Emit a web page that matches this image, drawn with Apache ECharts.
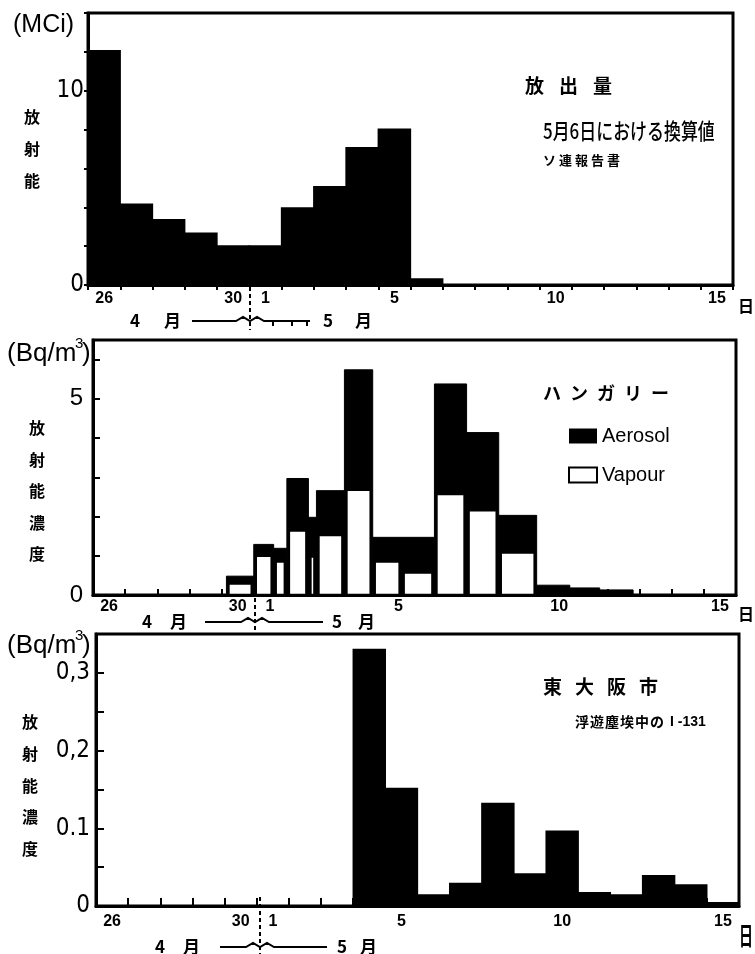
<!DOCTYPE html>
<html>
<head>
<meta charset="utf-8">
<script src="https://cdn.jsdelivr.net/npm/echarts@6/dist/echarts.min.js"></script>
<style>
  html, body { margin: 0; background: #fff; }
  #chart { width: 755px; height: 954px; }
</style>
</head>
<body>
<div id="chart"></div>
<script>
// 4月26日 .. 5月15日
const days = ['26', '27', '28', '29', '30', '1', '2', '3', '4', '5', '6', '7', '8', '9', '10', '11', '12', '13', '14', '15']
const shownDays = ['26', '30', '1', '5', '10', '15']

// 放出量 (MCi) 5月6日における換算値, ソ連報告書
const releaseMCi = [12.1, 4.2, 3.4, 2.7, 2.05, 2.05, 4.0, 5.1, 7.1, 8.05, 0.35]

// ハンガリー (Bq/m3): sampling periods in days counted from 4月26日 0時
const hungaryFrom = [4.15, 5.0, 5.62, 6.03, 6.7, 6.95, 7.82, 8.7, 9.6, 10.62, 11.62, 12.62, 13.8, 14.83, 15.76]
const hungaryTo = [5.0, 5.62, 6.03, 6.7, 6.95, 7.82, 8.7, 9.6, 10.62, 11.62, 12.62, 13.8, 14.83, 15.76, 16.8]
const hungaryVapour = [0.33, 1.04, 0.89, 1.68, 1.02, 1.57, 2.72, 0.89, 0.61, 2.61, 2.2, 1.12, 0, 0, 0]
const hungaryAerosol = [0.15, 0.25, 0.3, 1.29, 0.96, 1.09, 3.02, 0.58, 0.86, 2.77, 1.94, 0.91, 0.25, 0.18, 0.13]

// 東大阪市 浮遊塵埃中の I-131 (Bq/m3)
const osakaI131 = ['-', '-', '-', '-', '-', '-', '-', '-', 0.331, 0.152, 0.015, 0.03, 0.133, 0.042, 0.097, 0.018, 0.015, 0.04, 0.028, 0.005]

const JP = '"Noto Sans CJK JP", sans-serif'
const LAT = '"Liberation Sans", Arial, sans-serif'
const NARROW = '"Liberation Sans Narrow", "DejaVu Sans Condensed", sans-serif'

const chart = echarts.init(document.getElementById('chart'))

// category axis: line + day labels centred on each day
const dayAxis = (gridIndex, margin) => ({
  type: 'category',
  gridIndex,
  position: 'bottom',
  data: days,
  boundaryGap: true,
  axisLine: { lineStyle: { color: '#000', width: 3 } },
  axisTick: { show: false },
  axisLabel: {
    interval: (i, v) => shownDays.includes(v),
    margin,
    color: '#000',
    fontSize: 16,
    fontWeight: 'bold',
    fontFamily: LAT
  },
  splitLine: { show: false }
})
// value axis in day units: day boundary ticks (and the Hungarian sampling periods)
const dayTicks = (gridIndex, inside, len) => ({
  type: 'value',
  gridIndex,
  position: 'bottom',
  min: 0,
  max: 20,
  interval: 1,
  axisLine: { show: false },
  axisTick: { show: true, inside, length: len, lineStyle: { color: '#000', width: 2 } },
  axisLabel: { show: false },
  splitLine: { show: false }
})

const valueAxis = (gridIndex, max, interval, inside, len, margin, fmt, ff) => ({
  type: 'value',
  gridIndex,
  min: 0,
  max,
  interval,
  axisLine: { show: true, lineStyle: { color: '#000', width: 3 } },
  axisTick: { show: true, inside, length: len, lineStyle: { color: '#000', width: 2 } },
  axisLabel: { formatter: fmt, margin, color: '#000', fontSize: 24, fontFamily: ff },
  splitLine: { show: false }
})

// text helpers for the annotations
const T = (x, y, text, size, o = {}) => ({
  type: 'text',
  x,
  y,
  z: 100,
  scaleX: o.sx || 1,
  scaleY: o.sy || 1,
  style: {
    text,
    fontSize: size,
    fontFamily: o.ff || JP,
    fontWeight: o.fw || 'bold',
    fill: '#000',
    textAlign: o.align || 'left',
    textVerticalAlign: 'middle'
  }
})
const spaced = (str, x, y, step, size, o) => str.split('').map((c, i) => T(x + i * step, y, c, size, o))
const column = (str, x, y, step, size) => str.split('').map((c, i) => T(x, y + i * step, c, size))
const line = (x1, y1, x2, y2, dash) => ({
  type: 'line',
  z: 100,
  shape: { x1, y1, x2, y2 },
  style: { stroke: '#000', lineWidth: 2, lineDash: dash || null }
})
const monthRow = (y, x4, off4, x5, off5, from, to, xd, dTop, dBottom) => [
  T(x4, y, '4', 17),
  T(x4 + off4, y, '月', 17),
  T(x5, y, '5', 17),
  T(x5 + off5, y, '月', 17),
  {
    type: 'polyline',
    z: 100,
    shape: { points: [[from, y], [xd - 14, y], [xd - 7, y - 4], [xd, y], [xd + 7, y - 4], [xd + 14, y], [to, y]] },
    style: { stroke: '#000', lineWidth: 2, fill: null }
  },
  line(xd, dTop, xd, dBottom, [4, 3])
]
const bqUnit = (x, y) => [
  T(x, y, '(Bq/m', 26, { ff: LAT, fw: 'normal' }),
  T(x + 68, y - 10, '3', 15, { ff: LAT, fw: 'normal' }),
  T(x + 75, y, ')', 26, { ff: LAT, fw: 'normal' })
]

const graphic = [
  // panel 1
  T(13, 25, '(MCi)', 25, { ff: LAT, fw: 'normal' }),
  ...column('放射能', 24, 117, 32, 16),
  ...spaced('放出量', 525, 86, 34, 19),
  T(543, 131, '5月6日における換算値', 22, { sx: 0.77, fw: '500' }),
  ...spaced('ソ連報告書', 543, 160, 16, 13),
  T(746, 306, '日', 16, { align: 'center' }),
  ...monthRow(321, 130, 34, 323, 32, 192, 310, 250, 287, 330),
  line(273, 322, 273, 326), line(292, 322, 292, 326), line(307, 322, 307, 326),
  // panel 2
  ...bqUnit(7, 354),
  ...column('放射能濃度', 29, 428, 31.5, 16),
  ...spaced('ハンガリー', 543, 393, 27, 18),
  T(746, 614, '日', 16, { align: 'center' }),
  ...monthRow(622, 142, 28, 332, 26, 205, 323, 255, 598, 630),
  // panel 3
  ...bqUnit(7, 646),
  ...column('放射能濃度', 22, 722, 31.8, 16),
  ...spaced('東大阪市', 543, 687, 32, 19),
  ...spaced('浮遊塵埃中の', 575, 722, 15, 14),
  T(670, 722, 'I -131', 14, { ff: LAT }),
  T(746, 935, '日', 14, { align: 'center', sy: 1.8 }),
  ...monthRow(947, 155, 28, 337, 23, 220, 327, 260, 897, 954)
]

const option = {
  animation: false,
  backgroundColor: '#fff',
  grid: [
    { left: 88, top: 13, width: 645, height: 272, show: true, borderColor: '#000', borderWidth: 3 },
    { left: 93, top: 340, width: 643, height: 255, show: true, borderColor: '#000', borderWidth: 3 },
    { left: 96, top: 634, width: 643, height: 272, show: true, borderColor: '#000', borderWidth: 3 }
  ],
  xAxis: [
    dayAxis(0, 6),
    dayTicks(0, false, 5),
    dayAxis(1, 4),
    dayTicks(1, true, 6),
    dayAxis(2, 8),
    dayTicks(2, true, 8)
  ],
  yAxis: [
    valueAxis(0, 14, 2, false, 4, 4, v => (v === 0 || v === 10 ? String(v) : ''), NARROW),
    valueAxis(1, 6.5, 1, true, 7, 10, v => (v === 0 || v === 5 ? String(v) : ''), LAT),
    valueAxis(2, 0.35, 0.05, true, 8, 6, v => {
      const k = Math.round(v * 100)
      return k === 0 ? '0' : k === 10 ? '0.1' : k === 20 ? '0,2' : k === 30 ? '0,3' : ''
    }, NARROW)
  ],
  legend: {
    data: [
      { name: 'Aerosol', icon: 'rect', itemStyle: { color: '#000' } },
      { name: 'Vapour', icon: 'rect', itemStyle: { color: '#fff', borderColor: '#000', borderWidth: 2 } }
    ],
    orient: 'vertical',
    left: 568,
    top: 426,
    padding: 0,
    itemWidth: 28,
    itemHeight: 15,
    itemGap: 19,
    selectedMode: false,
    textStyle: { fontSize: 20, color: '#000', fontFamily: LAT }
  },
  series: [
    {
      type: 'bar',
      xAxisIndex: 0,
      yAxisIndex: 0,
      data: releaseMCi,
      barWidth: '104%',
      itemStyle: { color: '#000' }
    },
    {
      type: 'custom',
      name: 'Aerosol',
      xAxisIndex: 3,
      yAxisIndex: 1,
      itemStyle: { color: '#000' },
      encode: { x: [0, 1], y: 2 },
      data: hungaryFrom.map((f, i) => [f, hungaryTo[i], hungaryVapour[i] + hungaryAerosol[i]]),
      renderItem: (params, api) => {
        const p0 = api.coord([api.value(0), 0])
        const p1 = api.coord([api.value(1), api.value(2)])
        return {
          type: 'rect',
          shape: { x: p0[0], y: p1[1], width: p1[0] - p0[0], height: p0[1] - p1[1] },
          style: { fill: '#000', stroke: '#000', lineWidth: 1 }
        }
      }
    },
    {
      type: 'custom',
      name: 'Vapour',
      xAxisIndex: 3,
      yAxisIndex: 1,
      itemStyle: { color: '#fff', borderColor: '#000', borderWidth: 2 },
      encode: { x: [0, 1], y: 2 },
      data: hungaryFrom.map((f, i) => [f, hungaryTo[i], hungaryVapour[i]]),
      renderItem: (params, api) => {
        if (!api.value(2)) return null
        const p0 = api.coord([api.value(0), 0])
        const p1 = api.coord([api.value(1), api.value(2)])
        return {
          type: 'rect',
          shape: { x: p0[0] + 2, y: p1[1] + 1.5, width: p1[0] - p0[0] - 4, height: p0[1] - p1[1] - 1.5 },
          style: { fill: '#fff', stroke: '#000', lineWidth: 2.5 }
        }
      }
    },
    {
      type: 'bar',
      xAxisIndex: 4,
      yAxisIndex: 2,
      data: osakaI131,
      barWidth: '104%',
      itemStyle: { color: '#000' }
    }
  ],
  graphic
}

chart.setOption(option)
</script>
</body>
</html>
